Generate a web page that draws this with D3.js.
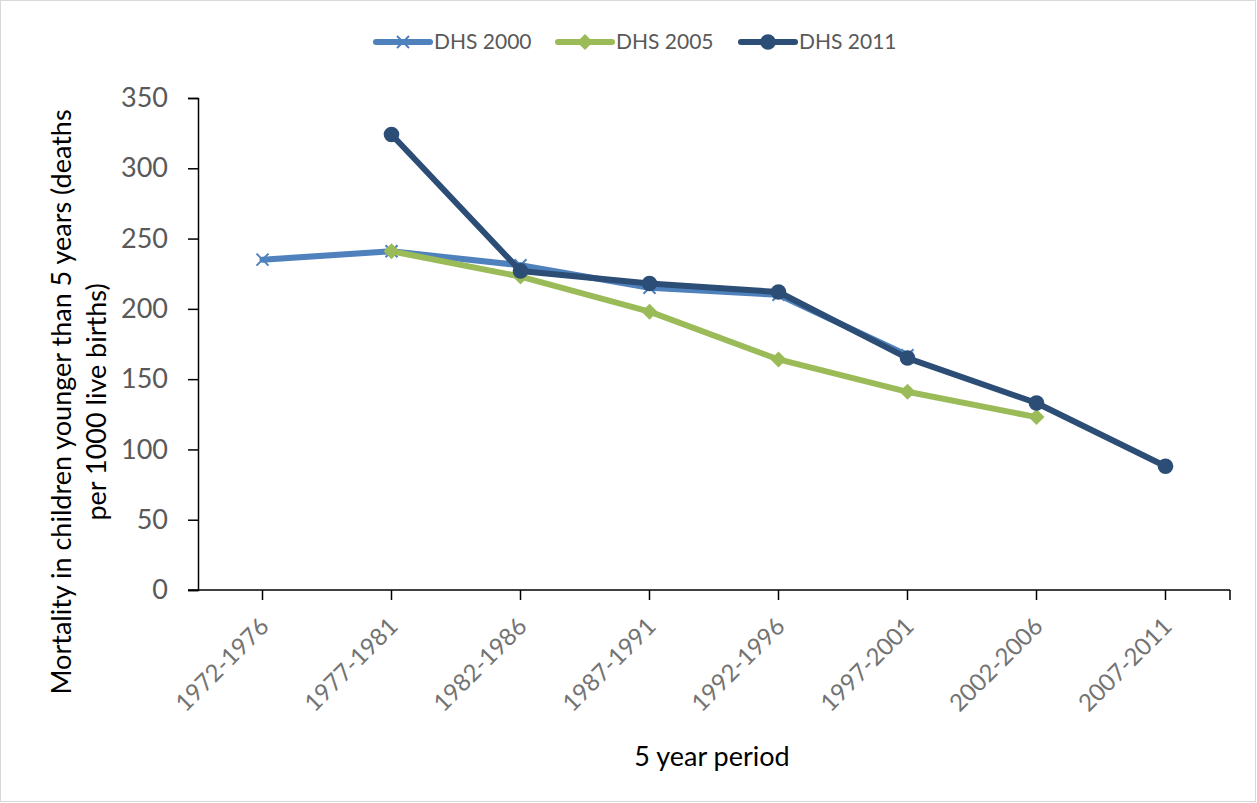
<!DOCTYPE html>
<html>
<head>
<meta charset="utf-8">
<script src="https://cdn.jsdelivr.net/npm/d3@7"></script>
<style>
  html, body { margin: 0; padding: 0; background: #fff; }
  svg { display: block; font-family: Lato, "Open Sans", sans-serif; }
</style>
</head>
<body>
<svg id="chart" width="1257" height="803"></svg>
<script>
// Under-five mortality by 5-year period, from three DHS rounds
const periods = ["1972-1976", "1977-1981", "1982-1986", "1987-1991",
                 "1992-1996", "1997-2001", "2002-2006", "2007-2011"];
const dhs2000 = [235, 241, 231, 215, 210, 167, null, null];
const dhs2005 = [null, 241, 223, 198, 164, 141, 123, null];
const dhs2011 = [null, 324, 227, 218, 212, 165, 133, 88];
const seriesNames = ["DHS 2000", "DHS 2005", "DHS 2011"];
const yTicks = [0, 50, 100, 150, 200, 250, 300, 350];

const seriesList = [
  { name: seriesNames[0], values: dhs2000, color: "#4F81BD", marker: "x" },
  { name: seriesNames[1], values: dhs2005, color: "#9BBB59", marker: "diamond" },
  { name: seriesNames[2], values: dhs2011, color: "#2C4D75", marker: "circle" }
];

const svg = d3.select("#chart");
const W = 1257, H = 803;
const plot = { left: 198, right: 1230, top: 98, bottom: 590 };

// outer chart frame
svg.append("rect")
  .attr("x", 0.5).attr("y", 0.5)
  .attr("width", W - 2).attr("height", H - 2)
  .attr("fill", "#fff").attr("stroke", "#D9D9D9").attr("stroke-width", 1);

const x = d3.scaleBand().domain(periods).range([plot.left, plot.right]);
const y = d3.scaleLinear().domain([0, 350]).range([plot.bottom, plot.top]);
const cx = p => x(p) + x.bandwidth() / 2;

// y axis
const yAxis = svg.append("g")
  .attr("transform", `translate(${plot.left},0)`)
  .call(d3.axisLeft(y).tickValues(yTicks).tickSize(10).tickPadding(20));
yAxis.select(".domain").attr("stroke", "#000").attr("stroke-width", 1.5);
yAxis.selectAll(".tick line").attr("stroke", "#000").attr("stroke-width", 1.5);
yAxis.selectAll(".tick text")
  .attr("fill", "#595959").attr("font-size", 27)
  .attr("font-family", "Lato, 'Open Sans', sans-serif");

// x axis: baseline with ticks at each category and at the right end
const xg = svg.append("g");
xg.append("line")
  .attr("x1", plot.left - 10).attr("x2", plot.right)
  .attr("y1", plot.bottom).attr("y2", plot.bottom)
  .attr("stroke", "#000").attr("stroke-width", 1.5);
const xTickPos = periods.map(cx).concat([plot.right]);
xg.selectAll("line.xt").data(xTickPos).join("line")
  .attr("class", "xt")
  .attr("x1", d => d).attr("x2", d => d)
  .attr("y1", plot.bottom).attr("y2", plot.bottom + 10)
  .attr("stroke", "#000").attr("stroke-width", 1.5);
xg.selectAll("text.xl").data(periods).join("text")
  .attr("class", "xl")
  .attr("transform", d => `translate(${cx(d) + 2},${plot.bottom + 32}) rotate(-45)`)
  .attr("text-anchor", "end")
  .attr("dy", "0.35em")
  .attr("fill", "#737373")
  .attr("font-size", 24)
  .text(d => d);

// axis titles
svg.append("text")
  .attr("x", 712).attr("y", 766)
  .attr("text-anchor", "middle")
  .attr("font-size", 27).attr("fill", "#000")
  .text("5 year period");

const yTitle = svg.append("text")
  .attr("transform", "translate(62,402) rotate(-90)")
  .attr("text-anchor", "middle")
  .attr("font-size", 27).attr("fill", "#000");
yTitle.append("tspan").attr("x", 0).attr("dy", "0.35em")
  .text("Mortality in children younger than 5 years (deaths");
yTitle.append("tspan").attr("x", 0).attr("dy", 35)
  .text("per 1000 live births)");

// marker drawing
function drawMarker(g, type, color, px, py) {
  if (type === "x") {
    const s = 6;
    g.append("path")
      .attr("d", `M${px - s},${py - s}L${px + s},${py + s}M${px - s},${py + s}L${px + s},${py - s}`)
      .attr("stroke", color).attr("stroke-width", 2).attr("fill", "none");
  } else if (type === "diamond") {
    const s = 8;
    g.append("path")
      .attr("d", `M${px},${py - s}L${px + s},${py}L${px},${py + s}L${px - s},${py}Z`)
      .attr("fill", color);
  } else {
    g.append("circle").attr("cx", px).attr("cy", py).attr("r", 7.8).attr("fill", color);
  }
}

// series lines + markers
const line = d3.line()
  .defined(d => d.v !== null)
  .x(d => cx(d.p))
  .y(d => y(d.v));

seriesList.forEach(s => {
  const pts = periods.map((p, i) => ({ p, v: s.values[i] }));
  const g = svg.append("g");
  g.append("path")
    .datum(pts)
    .attr("d", line)
    .attr("fill", "none")
    .attr("stroke", s.color)
    .attr("stroke-width", 6)
    .attr("stroke-linejoin", "round")
    .attr("stroke-linecap", "round");
  pts.filter(d => d.v !== null).forEach(d => drawMarker(g, s.marker, s.color, cx(d.p), y(d.v)));
});

// legend
const legendX = [376, 558, 741];
const legend = svg.append("g");
seriesList.forEach((s, i) => {
  const lx = legendX[i], ly = 42;
  legend.append("line")
    .attr("x1", lx).attr("x2", lx + 54)
    .attr("y1", ly).attr("y2", ly)
    .attr("stroke", s.color).attr("stroke-width", 6).attr("stroke-linecap", "round");
  drawMarker(legend, s.marker, s.color, lx + 27, ly);
  legend.append("text")
    .attr("x", lx + 58).attr("y", ly)
    .attr("dy", "0.35em")
    .attr("font-size", 21)
    .attr("fill", "#595959")
    .text(s.name);
});
</script>
</body>
</html>
